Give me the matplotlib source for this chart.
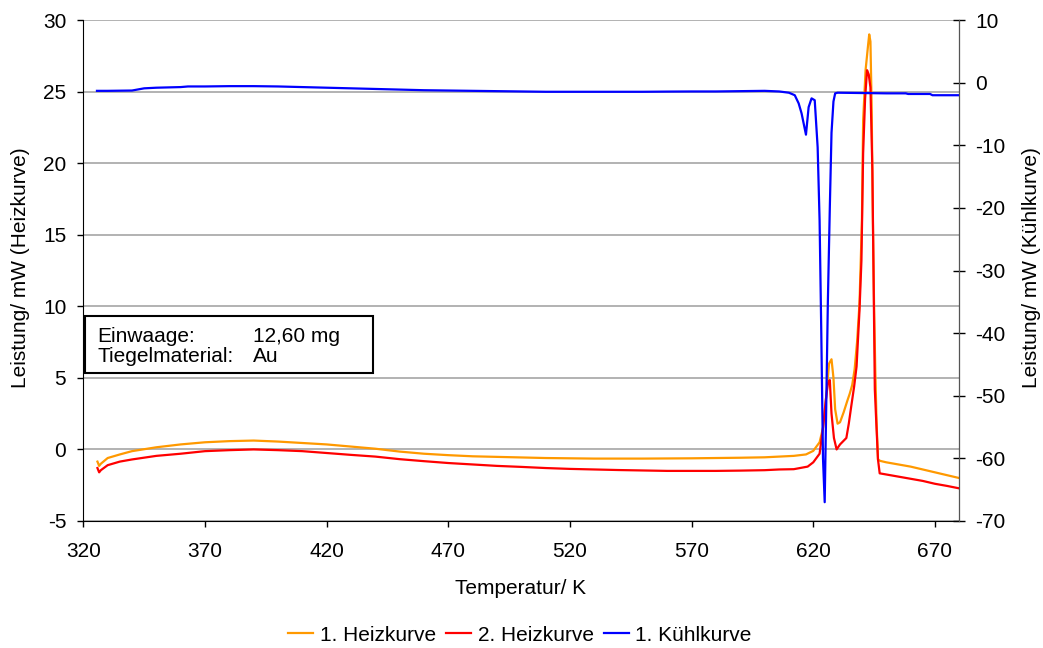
import matplotlib
matplotlib.use("Agg")
import matplotlib.pyplot as plt
from matplotlib.patches import Rectangle

plt.rcParams['font.family'] = ['Liberation Sans', 'DejaVu Sans']
plt.rcParams['axes.unicode_minus'] = False

# 1. Heizkurve (left axis, mW)
heat1_T = [325.8, 326.5, 327.2, 330, 335, 340, 350, 360, 370, 380, 390, 400, 410, 420, 430,
           440, 450, 460, 470, 480, 490, 500, 510, 520, 530, 540, 550, 560, 570, 580, 590,
           600, 606, 612, 617, 620, 622.6, 624, 625.5, 626.5, 627.5, 628.3, 629, 630, 631,
           632.5, 634, 635, 636, 637, 638, 639, 640, 640.5, 641.5, 642.5, 643, 643.5, 644,
           644.5, 645, 645.5, 646, 646.6, 647.5, 650, 655, 660, 665, 670, 675, 680]
heat1_P = [-0.85, -1.15, -1.0, -0.6, -0.35, -0.12, 0.15, 0.35, 0.5, 0.58, 0.62, 0.55, 0.45,
           0.35, 0.2, 0.05, -0.15, -0.3, -0.4, -0.48, -0.52, -0.56, -0.6, -0.62, -0.64, -0.64,
           -0.64, -0.63, -0.62, -0.6, -0.58, -0.55, -0.5, -0.45, -0.35, -0.1, 0.5, 1.5, 4.0,
           6.0, 6.3, 5.0, 2.8, 1.8, 1.9, 2.6, 3.4, 3.9, 4.5, 5.6, 7.5, 10.2, 16.0, 23.0, 26.5,
           28.2, 29.0, 28.5, 24.0, 16.0, 10.0, 5.5, 2.0, -0.7, -0.8, -0.9, -1.05, -1.2, -1.4,
           -1.6, -1.8, -2.0]

# 2. Heizkurve (left axis, mW)
heat2_T = [325.8, 326.5, 327.2, 330, 335, 340, 350, 360, 370, 380, 390, 400, 410, 420, 430,
           440, 450, 460, 470, 480, 490, 500, 510, 520, 530, 540, 550, 560, 570, 580, 590,
           600, 606, 612, 617.7, 620, 622.6, 624, 625.2, 626, 626.8, 627.5, 628.5, 629.6, 631,
           633.6, 634.6, 635.6, 636.8, 637.8, 639, 639.8, 640.5, 641.3, 642.1, 642.8, 643.5,
           644.3, 645.3, 646, 646.6, 647.3, 650, 655, 660, 665, 670, 675, 680]
heat2_P = [-1.3, -1.6, -1.45, -1.1, -0.85, -0.7, -0.45, -0.3, -0.12, -0.05, 0.0, -0.05, -0.12,
           -0.25, -0.38, -0.5, -0.68, -0.82, -0.95, -1.05, -1.15, -1.22, -1.3, -1.36, -1.4,
           -1.44, -1.47, -1.5, -1.5, -1.5, -1.48, -1.45, -1.4, -1.38, -1.2, -0.9, -0.3, 1.5,
           3.5, 4.6, 4.85, 2.5, 0.8, 0.0, 0.35, 0.8, 1.8, 3.0, 4.4, 5.8, 9.7, 13.2, 20.7, 24.5,
           26.5, 26.2, 25.3, 19.5, 4.2, 1.5, -0.7, -1.67, -1.75, -1.9, -2.05, -2.2, -2.4,
           -2.55, -2.72]

# 1. Kühlkurve (right axis, mW)
cool_T = [325.6, 330, 340, 345, 350, 360, 363, 370, 380, 390, 400, 410, 420, 430, 440, 450,
          460, 470, 480, 490, 500, 510, 520, 530, 540, 550, 560, 570, 580, 590, 600, 606,
          610, 612.4, 614, 615.2, 617, 618.1, 619.3, 620.6, 621.8, 622.6, 623.3, 624, 624.7,
          625.4, 626, 626.8, 627.5, 628.3, 629, 630, 640, 650, 658, 659, 668, 669, 680]
cool_P = [-1.3, -1.3, -1.25, -0.9, -0.8, -0.7, -0.6, -0.6, -0.55, -0.55, -0.6, -0.7, -0.8,
          -0.9, -1.0, -1.1, -1.2, -1.25, -1.3, -1.35, -1.4, -1.45, -1.45, -1.45, -1.45,
          -1.45, -1.42, -1.4, -1.4, -1.35, -1.3, -1.4, -1.6, -2.0, -3.3, -4.9, -8.3, -3.9,
          -2.5, -2.8, -10.3, -22.0, -40.0, -60.0, -67.0, -50.0, -35.0, -20.0, -8.0, -3.0,
          -1.7, -1.6, -1.65, -1.7, -1.7, -1.8, -1.8, -2.0, -2.0]

labels = ["1. Heizkurve", "2. Heizkurve", "1. Kühlkurve"]
colors = ["#FF9900", "#FF0000", "#0000FF"]

fig = plt.figure(figsize=(10.43, 6.48), dpi=100)
ax = fig.add_axes([0.0799, 0.196, 0.8398, 0.773])
ax2 = ax.twinx()

fs = 15
ax.set_xlim(320, 680)
ax.set_ylim(-5, 30)
ax.set_xticks(range(320, 680, 50))
ax.set_yticks(range(-5, 31, 5))
ax2.set_ylim(-70, 10)
ax2.set_yticks(range(-70, 11, 10))

ax.yaxis.grid(True, color="#A6A6A6", linewidth=1.2)
ax.set_axisbelow(True)

l1, = ax.plot(heat1_T, heat1_P, color=colors[0], lw=1.6, label=labels[0])
l2, = ax.plot(heat2_T, heat2_P, color=colors[1], lw=1.6, label=labels[1])
l3, = ax2.plot(cool_T, cool_P, color=colors[2], lw=1.6, label=labels[2])

for a in (ax, ax2):
    a.spines["top"].set_visible(False)
    a.tick_params(labelsize=fs, length=4.3, width=1, colors="black", pad=8)
ax.tick_params(axis="x", pad=11)
ax.spines["left"].set_color("black")
ax.spines["bottom"].set_color("black")
ax2.spines["right"].set_color("#555555")
ax2.spines["left"].set_visible(False)
ax2.spines["bottom"].set_visible(False)
ax2.tick_params(axis="y", direction="inout", length=8.6, pad=7)

ax.set_xlabel("Temperatur/ K", fontsize=fs)
ax.xaxis.label.set_va("center")
ax.xaxis.set_label_coords(0.4997, -0.1357)
ax.set_ylabel("Leistung/ mW (Heizkurve)", fontsize=fs)
ax.yaxis.label.set_va("center")
ax.yaxis.set_label_coords(-0.0723, 0.505)
ax2.set_ylabel("Leistung/ mW (Kühlkurve)", fontsize=fs, rotation=90)
ax2.yaxis.label.set_va("center")
ax2.yaxis.set_label_coords(1.083, 0.505)

# sample info box
box = Rectangle((0.002, 0.295), 0.329, 0.114, transform=ax.transAxes,
                facecolor="white", edgecolor="black", lw=1.5, zorder=5)
ax.add_patch(box)
ax.text(0.016, 0.369, "Einwaage:", transform=ax.transAxes, fontsize=fs,
        va="center", ha="left", zorder=6)
ax.text(0.194, 0.369, "12,60 mg", transform=ax.transAxes, fontsize=fs,
        va="center", ha="left", zorder=6)
ax.text(0.016, 0.329, "Tiegelmaterial:", transform=ax.transAxes, fontsize=fs,
        va="center", ha="left", zorder=6)
ax.text(0.194, 0.329, "Au", transform=ax.transAxes, fontsize=fs,
        va="center", ha="left", zorder=6)

fig.legend([l1, l2, l3], labels, loc="center", bbox_to_anchor=(0.4986, 0.02),
           ncol=3, frameon=False, fontsize=fs, handlelength=1.2, handletextpad=0.3,
           columnspacing=0.5, borderpad=0.2)

fig.savefig("out.png", dpi=100)
